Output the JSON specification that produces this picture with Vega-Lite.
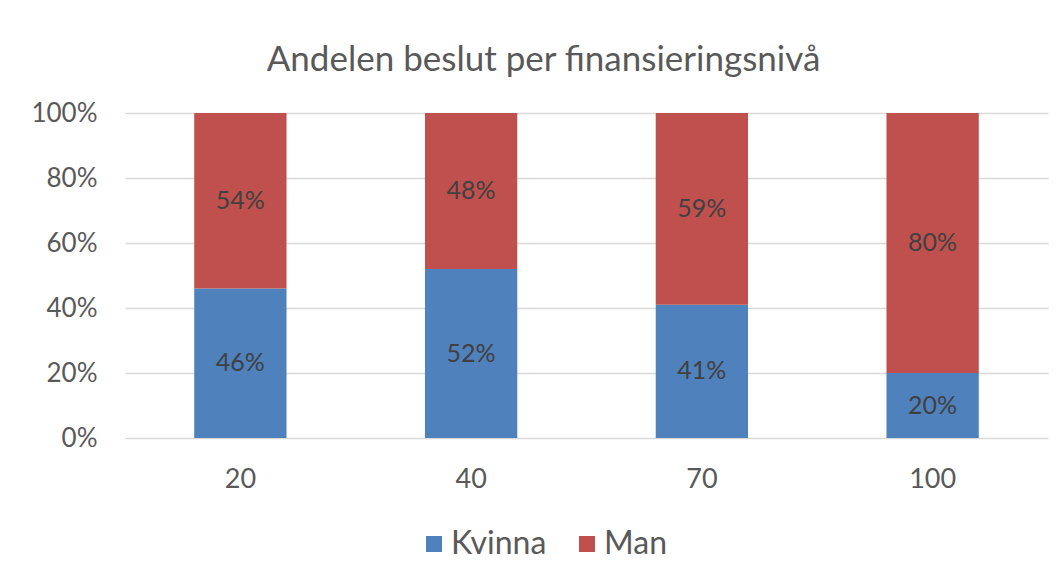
{
  "$schema": "https://vega.github.io/schema/vega-lite/v6.json",
  "autosize": "none",
  "width": 923,
  "height": 325,
  "padding": {"left": 125, "top": 113, "right": 15, "bottom": 142},
  "background": "white",
  "title": {
    "text": "Andelen beslut per finansieringsnivå",
    "font": "Lato",
    "fontSize": 35,
    "fontWeight": "normal",
    "color": "#595959",
    "anchor": "middle",
    "dx": -43,
    "baseline": "alphabetic",
    "offset": -6
  },
  "data": {
    "values": [
      {"niva": "20", "kon": "Kvinna", "andel": 0.46},
      {"niva": "20", "kon": "Man", "andel": 0.54},
      {"niva": "40", "kon": "Kvinna", "andel": 0.52},
      {"niva": "40", "kon": "Man", "andel": 0.48},
      {"niva": "70", "kon": "Kvinna", "andel": 0.41},
      {"niva": "70", "kon": "Man", "andel": 0.59},
      {"niva": "100", "kon": "Kvinna", "andel": 0.20},
      {"niva": "100", "kon": "Man", "andel": 0.80}
    ]
  },
  "transform": [
    {"stack": "andel", "groupby": ["niva"], "sort": [{"field": "kon", "order": "ascending"}], "as": ["y0", "y1"]},
    {"calculate": "(datum.y0 + datum.y1) / 2", "as": "ymid"}
  ],
  "encoding": {
    "x": {
      "field": "niva",
      "type": "ordinal",
      "sort": ["20", "40", "70", "100"],
      "scale": {"paddingInner": 0.6, "paddingOuter": 0.3},
      "axis": {
        "title": null,
        "labelAngle": 0,
        "labelFont": "Lato",
        "labelFontSize": 27,
        "labelColor": "#595959",
        "labelPadding": 28,
        "domain": false,
        "ticks": false,
        "grid": false
      }
    }
  },
  "layer": [
    {
      "mark": {"type": "bar"},
      "encoding": {
        "y": {
          "field": "y0",
          "type": "quantitative",
          "scale": {"domain": [0, 1]},
          "axis": {
            "title": null,
            "format": ".0%",
            "values": [0, 0.2, 0.4, 0.6, 0.8, 1],
            "labelFont": "Lato",
            "labelFontSize": 26,
            "labelColor": "#595959",
            "labelPadding": 28,
            "domain": false,
            "ticks": false,
            "grid": true,
            "gridColor": "#d9d9d9",
            "gridWidth": 1.5
          }
        },
        "y2": {"field": "y1"},
        "color": {
          "field": "kon",
          "type": "nominal",
          "scale": {"domain": ["Kvinna", "Man"], "range": ["#4f81bd", "#c0504d"]},
          "legend": {
            "title": null,
            "orient": "none",
            "direction": "horizontal",
            "legendX": 293,
            "legendY": 415,
            "symbolType": "square",
            "symbolSize": 256,
            "symbolStrokeWidth": 0,
            "labelFont": "Lato",
            "labelFontSize": 32,
            "labelColor": "#595959",
            "columnPadding": 24,
            "labelOffset": 1
          }
        }
      }
    },
    {
      "mark": {"type": "text", "font": "Lato", "fontSize": 25, "color": "#404040", "baseline": "middle"},
      "encoding": {
        "y": {"field": "ymid", "type": "quantitative"},
        "text": {"field": "andel", "type": "quantitative", "format": ".0%"}
      }
    }
  ],
  "config": {"view": {"stroke": null}}
}
